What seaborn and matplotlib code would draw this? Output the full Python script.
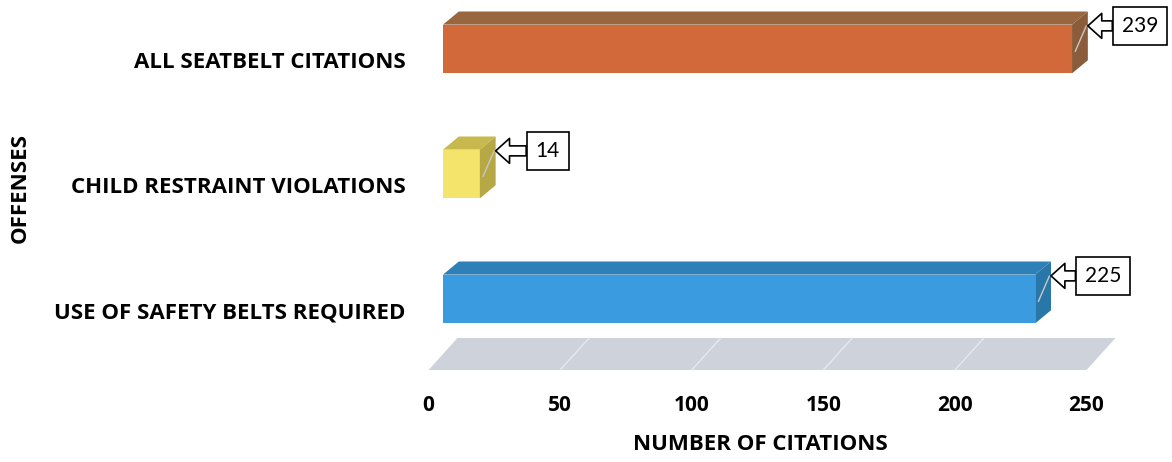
import numpy as np
import pandas as pd
import seaborn as sns
import matplotlib.pyplot as plt
from matplotlib.patches import Polygon

# dados do grafico
offenses = ['ALL SEATBELT CITATIONS', 'CHILD RESTRAINT VIOLATIONS', 'USE OF SAFETY BELTS REQUIRED']
citations = [239, 14, 225]
x_ticks = [0, 50, 100, 150, 200, 250]

# cores: frente, topo, lateral
front_colors = ['#D2693A', '#F5E46C', '#3A9BE0']
top_colors = ['#98663F', '#C8B94E', '#2F80B8']
side_colors = ['#8A5C39', '#B5A845', '#2977A8']

sns.set_style('white')
plt.rcParams['font.family'] = ['Open Sans', 'DejaVu Sans']
plt.rcParams['text.color'] = 'black'
plt.rcParams['xtick.color'] = 'black'
plt.rcParams['ytick.color'] = 'black'

# escala: 2.632 px por citacao, zero da barra em x=443 px
px = 2.632
x0, x1 = -12, 262
left = 443 + x0 * px
right = 443 + x1 * px

fig = plt.figure(figsize=(11.72, 4.62), dpi=100)
ax = fig.add_axes([left / 1172, 1 - 385 / 462, (right - left) / 1172, 385 / 462])

df = pd.DataFrame({'offense': offenses, 'citations': citations})
w = 0.39
sns.barplot(data=df, x='citations', y='offense', hue='offense', palette=front_colors,
            legend=False, width=w, saturation=1, ax=ax, linewidth=0, zorder=3)

# profundidade "3D" em unidades de dados
DX, DY = 6.0, 0.105

for i, v in enumerate(citations):
    top = i - w / 2
    bot = i + w / 2
    ax.add_patch(Polygon([(0, top), (v, top), (v + DX, top - DY), (DX, top - DY)],
                         closed=True, fc=top_colors[i], ec='none', zorder=3))
    ax.add_patch(Polygon([(v, top), (v + DX, top - DY), (v + DX, bot - DY), (v, bot)],
                         closed=True, fc=side_colors[i], ec='none', zorder=3))
    # linha de chamada
    ax.plot([v + DX * 0.9, v + DX * 0.2], [top + 0.01, i + 0.02], color='#C8C8C8', lw=1, zorder=4)
    ax.annotate(str(v), xy=(v + DX, top + 0.01), xytext=(52, 0), textcoords='offset pixels',
                ha='center', va='center', fontsize=15, color='black', zorder=6,
                fontfamily=['Lato', 'DejaVu Sans'],
                bbox=dict(boxstyle='square,pad=0.42', fc='white', ec='black', lw=1.2),
                arrowprops=dict(arrowstyle='simple,head_length=0.5,head_width=0.9,tail_width=0.36',
                                fc='white', ec='black', lw=1.2, shrinkA=0, shrinkB=0,
                                mutation_scale=20))

# piso cinza
off = 5.5
floor_front, floor_back = 2.568, 2.312
ax.add_patch(Polygon([(-off, floor_front), (x_ticks[-1] - off, floor_front),
                      (x_ticks[-1] + off, floor_back), (off, floor_back)],
                     closed=True, fc='#CDD2DB', ec='none', zorder=1))
for t in x_ticks[1:-1]:
    ax.plot([t - off, t + off], [floor_front, floor_back], color='#E6E9EE', lw=1, zorder=2)

ax.set_xlim(x0, x1)
ax.set_ylim(2.688, -0.392)
# rotulos do eixo x ficam na borda da frente do piso
ax.set_xticks([t - off for t in x_ticks])
ax.set_xticklabels([str(t) for t in x_ticks], fontsize=15, fontweight='bold')
ax.tick_params(axis='x', length=0, pad=7)
# rotulos das categorias um pouco abaixo do centro da barra
ax.set_yticks([i + 0.09 for i in range(len(offenses))])
ax.set_yticklabels(offenses, fontsize=16, fontweight='bold')
ax.tick_params(axis='y', length=0, pad=4)
ax.set_xlabel('')
ax.set_ylabel('')
for s in ax.spines.values():
    s.set_visible(False)

fig.text(20 / 1172, 1 - 188 / 462, 'OFFENSES', rotation=90, ha='center', va='center',
         fontsize=16, fontweight='bold')
fig.text(760 / 1172, 1 - 445 / 462, 'NUMBER OF CITATIONS', ha='center', va='center',
         fontsize=16, fontweight='bold')

fig.savefig('out.png', dpi=100)
